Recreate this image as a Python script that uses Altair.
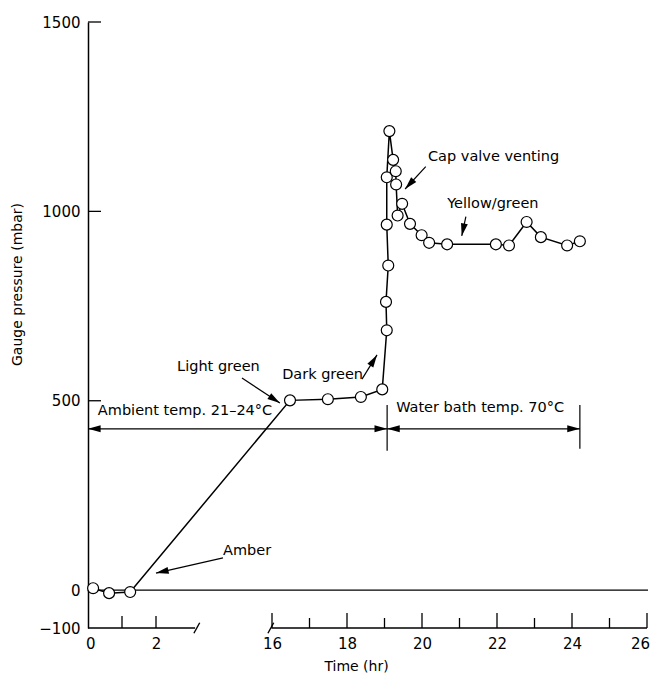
import math
import altair as alt
import pandas as pd

# ---------------- data ----------------
time_hr = [0.15, 0.62, 1.24, 16.48, 17.49, 18.37, 18.94, 19.06, 19.04, 19.10, 19.06, 19.06,
           19.13, 19.23, 19.30, 19.31, 19.35, 19.47, 19.68, 19.99, 20.19, 20.67, 21.97, 22.32,
           22.79, 23.17, 23.87, 24.21]
pressure_mbar = [5, -8, -5, 501, 504, 510, 530, 686, 761, 857, 965, 1090, 1212, 1136, 1106,
                 1071, 989, 1020, 967, 937, 917, 913, 913, 910, 972, 932, 910, 921]

y_label_values = [-100, 0, 500, 1000, 1500]
y_tick_values = [500, 1000, 1500]
x_label_times = [0, 2, 16, 18, 20, 22, 24, 26]
x_left_tick_times = [1, 2]
x_major_tick_times = [16, 18, 20, 22, 24, 26]
x_minor_tick_times = [17, 19, 21, 23, 25]
axis_seg_start = [0, 15.9]
axis_seg_end = [3.15, 26]
break_times = [3.2, 15.8]

label_texts = ["Light green", "Dark green", "Ambient temp. 21–24°C", "Water bath temp. 70°C",
               "Cap valve venting", "Yellow/green", "Amber"]
label_t = [2.62, 16.27, 0.29, 19.31, 20.16, 20.67, 7.66]
label_p = [589, 568, 473, 481, 1143, 1019, 103]

arrow_tail_t = [10.89, 18.40, 7.66, 20.10, 21.17]
arrow_tail_p = [560, 557, 85, 1118, 986]
arrow_tip_t = [16.21, 18.80, 2.00, 19.55, 21.06]
arrow_tip_p = [494, 621, 45, 1059, 935]

span_start_t = [0, 19.07]
span_end_t = [19.07, 24.21]
span_p = [426, 426]
bar_t = [19.07, 24.21]
bar_low_p = [368, 373]
bar_high_p = [489, 489]

# ---------------- broken time axis mapping ----------------
WIDTH, HEIGHT = 560, 606
LEFT_RATE = 34.0          # px per hour, left segment
LEFT_END_T = 3.2
RIGHT_START_T, RIGHT_START_U = 16.0, 184.0
RIGHT_RATE = 37.5         # px per hour, right segment
Y_MIN, Y_MAX = -100, 1500
PX_PER_MBAR = HEIGHT / (Y_MAX - Y_MIN)


def pos(t):
    if t <= LEFT_END_T:
        return t * LEFT_RATE
    if t < RIGHT_START_T:
        u0 = LEFT_END_T * LEFT_RATE
        return u0 + (t - LEFT_END_T) * (RIGHT_START_U - u0) / (RIGHT_START_T - LEFT_END_T)
    return RIGHT_START_U + (t - RIGHT_START_T) * RIGHT_RATE


FONT = "DejaVu Sans"
xs = alt.Scale(domain=[0, WIDTH], nice=False, zero=False)
ys = alt.Scale(domain=[Y_MIN, Y_MAX], nice=False, zero=False)

label_expr = (f"datum.value < 150 ? format(datum.value / {LEFT_RATE}, 'd') : "
              f"format({RIGHT_START_T} + (datum.value - {RIGHT_START_U}) / {RIGHT_RATE}, 'd')")

x_axis = alt.Axis(values=[pos(t) for t in x_label_times], labelExpr=label_expr,
                  domain=False, ticks=False, tickSize=0, grid=False,
                  labelFlush=True, labelFlushOffset=2.5,
                  labelPadding=8, labelFontSize=15, labelFont=FONT, labelColor="black",
                  title="Time (hr)", titleFont=FONT, titleFontSize=14, titleFontWeight="normal",
                  titleColor="black", titleX=268, titleY=38, titleAnchor="middle",
                  titleAlign="center", titleBaseline="middle")
y_axis = alt.Axis(values=y_label_values, format="d", domain=True, domainColor="black",
                  domainWidth=1.5, ticks=False, tickSize=0, grid=False, labelFlush=False,
                  labelPadding=8, labelFontSize=15, labelFont=FONT, labelColor="black",
                  title="Gauge pressure (mbar)", titleFont=FONT, titleFontSize=14,
                  titleFontWeight="normal", titleColor="black", titleAngle=270,
                  titleX=-71, titleY=262, titleAlign="center", titleBaseline="middle")


def X(field):
    return alt.X(field, type="quantitative", scale=xs, axis=x_axis)


def Y(field):
    return alt.Y(field, type="quantitative", scale=ys, axis=y_axis)


series = pd.DataFrame({"t": time_hr, "p": pressure_mbar})
series["u"] = series["t"].map(pos)
series["i"] = range(len(series))

line = alt.Chart(series).mark_line(color="black", strokeWidth=1.5).encode(
    x=X("u"), y=Y("p"), order="i:Q")
points = alt.Chart(series).mark_point(shape="circle", size=120, filled=True, fill="white",
                                      stroke="black", strokeWidth=1.2, opacity=1).encode(
    x=X("u"), y=Y("p"))

zero_line = alt.Chart(pd.DataFrame({"p": [0]})).mark_rule(color="black", strokeWidth=1.2).encode(
    y=Y("p"), x=alt.value(0), x2=alt.value(WIDTH))

ax_df = pd.DataFrame({"u0": [pos(t) for t in axis_seg_start], "u1": [pos(t) for t in axis_seg_end]})
x_axis_lines = alt.Chart(ax_df).mark_rule(color="black", strokeWidth=1.5).encode(
    x=X("u0"), x2="u1:Q", y=alt.value(HEIGHT))

# axis break marks drawn as short slanted strokes
breaks = alt.Chart(pd.DataFrame({"u": [pos(t) for t in break_times]})).mark_point(
    shape="M-0.55,1L0.55,-1", size=110, filled=False, stroke="black", strokeWidth=1.4,
    opacity=1).encode(x=X("u"), y=alt.value(HEIGHT))


def tick_layer(times, length):
    df = pd.DataFrame({"u": [pos(t) for t in times]})
    return alt.Chart(df).mark_rule(color="black", strokeWidth=1.3).encode(
        x=X("u"), y=alt.value(HEIGHT), y2=alt.value(HEIGHT - length))


y_ticks = alt.Chart(pd.DataFrame({"p": y_tick_values})).mark_rule(color="black", strokeWidth=1.3).encode(
    y=Y("p"), x=alt.value(0), x2=alt.value(13))

# annotation arrows
arr = pd.DataFrame({"t0": arrow_tail_t, "p0": arrow_tail_p, "t1": arrow_tip_t, "p1": arrow_tip_p})
arr["u0"] = arr["t0"].map(pos)
arr["u1"] = arr["t1"].map(pos)

# span arrows (double headed): shaft + two heads pointing outward
span = pd.DataFrame({"u0": [pos(t) for t in span_start_t], "u1": [pos(t) for t in span_end_t], "p": span_p})
heads = []
for _, r in arr.iterrows():
    heads.append({"u": r.u1, "p": r.p1, "dx": r.u1 - r.u0, "dy": (r.p1 - r.p0) * PX_PER_MBAR})
for _, r in span.iterrows():
    heads.append({"u": r.u0, "p": r.p, "dx": -1.0, "dy": 0.0})
    heads.append({"u": r.u1, "p": r.p, "dx": 1.0, "dy": 0.0})
heads = pd.DataFrame(heads)
heads["angle"] = [(math.degrees(math.atan2(dx, dy)) + 360) % 360 for dx, dy in zip(heads.dx, heads.dy)]

arrow_shafts = alt.Chart(arr).mark_rule(color="black", strokeWidth=1.2).encode(
    x=X("u0"), x2="u1:Q", y=Y("p0"), y2="p1:Q")
span_shafts = alt.Chart(span).mark_rule(color="black", strokeWidth=1.2).encode(
    x=X("u0"), x2="u1:Q", y=Y("p"))
bars = alt.Chart(pd.DataFrame({"u": [pos(t) for t in bar_t], "lo": bar_low_p, "hi": bar_high_p})).mark_rule(
    color="black", strokeWidth=1.2).encode(
    x=X("u"), y=Y("lo"), y2="hi:Q")
head_marks = alt.Chart(heads).mark_point(
    shape="M0,0L0.55,2L-0.55,2Z", size=160, filled=True, color="black", opacity=1).encode(
    x=X("u"), y=Y("p"), angle=alt.Angle("angle:Q", scale=None))

labels = pd.DataFrame({"text": label_texts, "t": label_t, "p": label_p})
labels["u"] = labels["t"].map(pos)
label_marks = alt.Chart(labels).mark_text(align="left", baseline="middle", fontSize=14.5,
                                          font=FONT, color="black").encode(
    x=X("u"), y=Y("p"), text="text:N")

chart = alt.layer(
    line, zero_line, x_axis_lines, breaks,
    tick_layer(x_left_tick_times, 12), tick_layer(x_major_tick_times, 15),
    tick_layer(x_minor_tick_times, 10), y_ticks,
    span_shafts, bars, arrow_shafts, head_marks, label_marks, points,
).properties(
    width=WIDTH, height=HEIGHT,
    autosize=alt.AutoSizeParams(type="none"),
    padding={"left": 80, "top": 14, "right": 3, "bottom": 48},
    background="white",
).configure_view(stroke=None)

chart.save("out.html", embed_options={"renderer": "svg", "actions": False})
